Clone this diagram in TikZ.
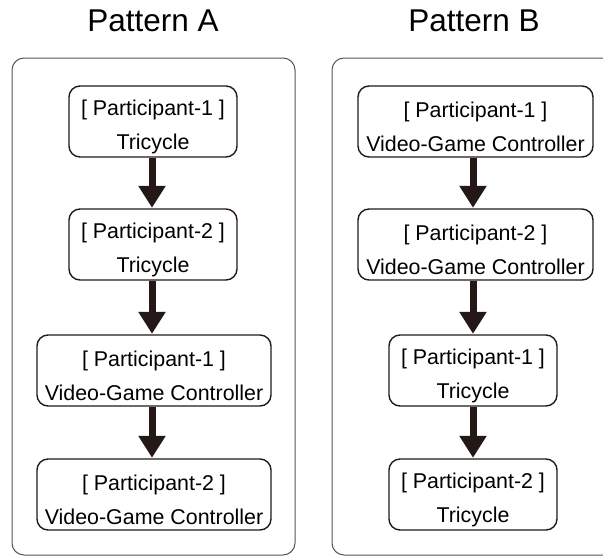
\documentclass[tikz,border=0pt]{standalone}
\usepackage{fontspec}
\setmainfont{Liberation Sans}
\usetikzlibrary{arrows.meta}
\definecolor{ink}{HTML}{231815}
\definecolor{panelgray}{HTML}{555555}
\newcommand{\toppad}{\rule{0pt}{27pt}}
\tikzset{
  panel/.style={draw=panelgray, line width=1pt, rounded corners=12pt},
  stagebox/.style={draw=ink, line width=1.4pt, rounded corners=11pt, align=center, inner sep=0pt,
    font=\fontsize{21.4}{34}\selectfont, text=black},
  flow/.style={draw=ink, line width=7pt, -{Triangle[width=26pt,length=22pt]}, shorten >=0.5pt},
  title/.style={font=\fontsize{31.5}{36}\selectfont, text=black}
}
\begin{document}
\begin{tikzpicture}[x=1pt,y=-1pt]
\useasboundingbox (0,0) rectangle (603,557);
\clip (0,0) rectangle (603,557);
\node[title] (ta) at (153,21) {Pattern A};
\node[title] (tb) at (474,21) {Pattern B};
\draw[panel] (12,58) rectangle (295,555);
\draw[panel] (332,58) rectangle (620,555);
% left column
\node[stagebox, minimum width=168pt, minimum height=71pt] (a1) at (153,121.5) {\toppad[ Participant-1 ]\\Tricycle};
\node[stagebox, minimum width=168pt, minimum height=71pt] (a2) at (153,244.5) {\toppad[ Participant-2 ]\\Tricycle};
\node[stagebox, minimum width=234pt, minimum height=71pt] (a3) at (154,370.5) {\toppad[ Participant-1 ]\\Video-Game Controller};
\node[stagebox, minimum width=234pt, minimum height=71pt] (a4) at (154,494.5) {\toppad[ Participant-2 ]\\Video-Game Controller};
% right column
\node[stagebox, minimum width=235pt, minimum height=71pt] (b1) at (475.5,121.5) {\toppad[ Participant-1 ]\\Video-Game Controller};
\node[stagebox, minimum width=235pt, minimum height=71pt] (b2) at (475.5,244.5) {\toppad[ Participant-2 ]\\Video-Game Controller};
\node[stagebox, minimum width=168pt, minimum height=71pt] (b3) at (473,370.5) {\toppad[ Participant-1 ]\\Tricycle};
\node[stagebox, minimum width=168pt, minimum height=71pt] (b4) at (473,494.5) {\toppad[ Participant-2 ]\\Tricycle};
% arrows
\draw[flow] (a1.south -| 152,0) -- (a2.north -| 152,0);
\draw[flow] (a2.south -| 152,0) -- (a3.north -| 152,0);
\draw[flow] (a3.south -| 152,0) -- (a4.north -| 152,0);
\draw[flow] (b1.south -| 473,0) -- (b2.north -| 473,0);
\draw[flow] (b2.south -| 473,0) -- (b3.north -| 473,0);
\draw[flow] (b3.south -| 473,0) -- (b4.north -| 473,0);
\end{tikzpicture}
\end{document}
